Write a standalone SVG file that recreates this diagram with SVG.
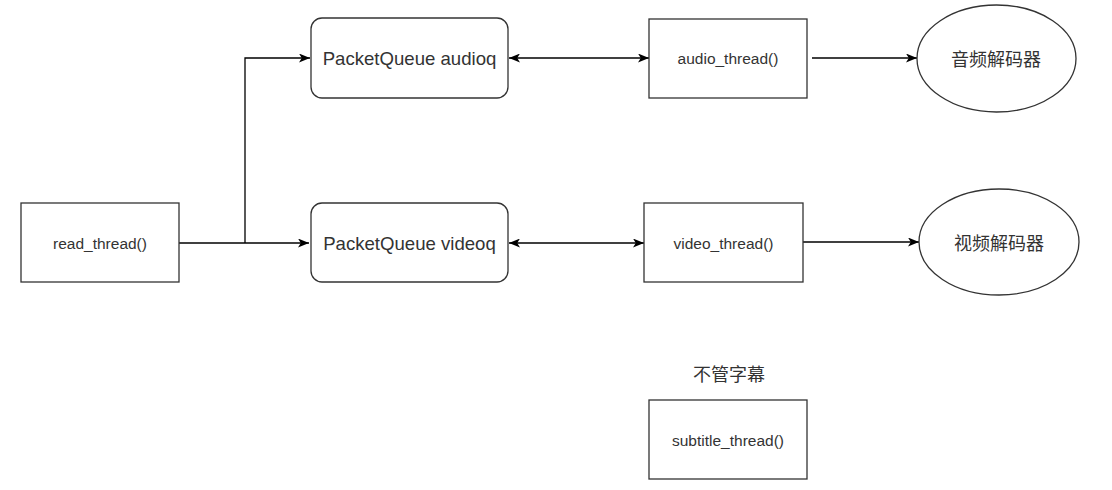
<svg xmlns="http://www.w3.org/2000/svg" width="1112" height="490" viewBox="0 0 1112 490">
<style>
.box{fill:#ffffff;stroke:#333333;stroke-width:1.3}
.t{font-family:"Liberation Sans",Arial,sans-serif;fill:#333333;text-anchor:middle;dominant-baseline:central}
.s{font-size:15.5px}
.l{font-size:18.6px}
.c{font-family:"Noto Sans CJK SC","Liberation Sans",sans-serif;font-size:18px;fill:#333333;text-anchor:middle;dominant-baseline:central}
.e{fill:none;stroke:#000000;stroke-width:1.3}
</style>
<defs>
<marker id="arr" viewBox="0 0 11 9" refX="11" refY="4.5" markerWidth="11" markerHeight="9" markerUnits="userSpaceOnUse" orient="auto-start-reverse">
<path d="M0,0 L11,4.5 L0,9 L2.8,4.5 z" fill="#000000"/>
</marker>
</defs>
<rect width="1112" height="490" fill="#ffffff"/>
<g id="connectors">
<path class="e" d="M179,243 H309" marker-end="url(#arr)"/>
<path class="e" d="M245,243 V58 H310" marker-end="url(#arr)"/>
<path class="e" d="M509,58 H649" marker-start="url(#arr)" marker-end="url(#arr)"/>
<path class="e" d="M509,243 H644" marker-start="url(#arr)" marker-end="url(#arr)"/>
<path class="e" d="M812,58 H917" marker-end="url(#arr)"/>
<path class="e" d="M803,242 H919" marker-end="url(#arr)"/>
</g>
<g id="read_thread">
<rect class="box" x="21" y="203" width="158" height="79"/>
<text class="t s" x="100" y="243">read_thread()</text>
</g>
<g id="audioq">
<rect class="box" x="311" y="18" width="197" height="80" rx="11" ry="11"/>
<text class="t l" x="409.500" y="58">PacketQueue audioq</text>
</g>
<g id="videoq">
<rect class="box" x="311" y="203" width="197" height="79" rx="11" ry="11"/>
<text class="t l" x="409.500" y="243">PacketQueue videoq</text>
</g>
<g id="audio_thread">
<rect class="box" x="649" y="19" width="158" height="79"/>
<text class="t s" x="728" y="58">audio_thread()</text>
</g>
<g id="video_thread">
<rect class="box" x="644" y="203" width="159" height="79"/>
<text class="t s" x="723.500" y="243">video_thread()</text>
</g>
<g id="audio_decoder">
<ellipse class="box" cx="996.500" cy="58.500" rx="79.500" ry="53.500"/>
<text class="c" x="996" y="58">音频解码器</text>
</g>
<g id="video_decoder">
<ellipse class="box" cx="999" cy="242" rx="80" ry="53"/>
<text class="c" x="999" y="242">视频解码器</text>
</g>
<g id="subtitle_note">
<text class="c" x="729" y="373">不管字幕</text>
</g>
<g id="subtitle_thread">
<rect class="box" x="649" y="400" width="158" height="79"/>
<text class="t s" x="728" y="440">subtitle_thread()</text>
</g>
</svg>
